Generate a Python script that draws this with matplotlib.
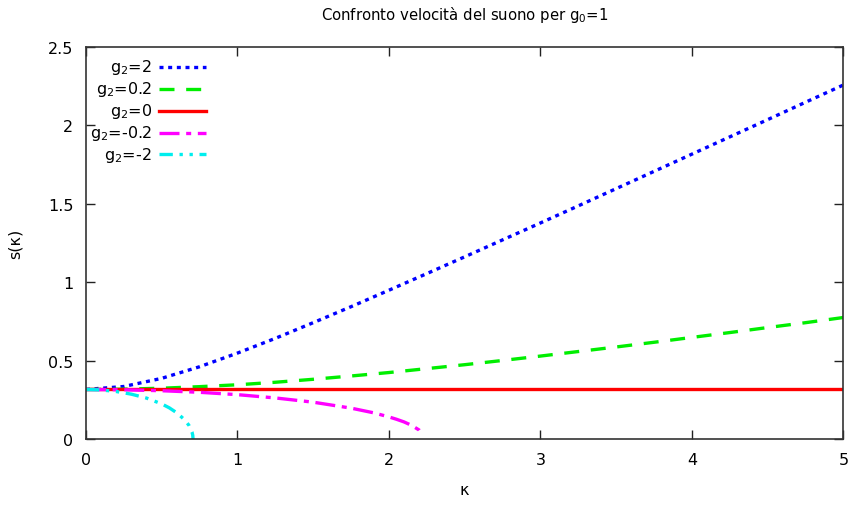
"""Sound speed s(kappa) for several values of g2, with g0 fixed at 1."""
import matplotlib
matplotlib.use("Agg")
import matplotlib.pyplot as plt

plt.rcParams["font.family"] = ["DejaVu Sans"]
plt.rcParams["mathtext.default"] = "regular"

# kappa grid and s(kappa) for each coupling
k_pos = [0.0, 0.25, 0.5, 0.75, 1.0, 1.25, 1.5, 1.75, 2.0, 2.25, 2.5,
         2.75, 3.0, 3.25, 3.5, 3.75, 4.0, 4.25, 4.5, 4.75, 5.0]
s_g2_2 = [0.316, 0.335, 0.387, 0.461, 0.548, 0.642, 0.742, 0.844, 0.949, 1.055, 1.162,
          1.270, 1.378, 1.487, 1.597, 1.707, 1.817, 1.927, 2.037, 2.148, 2.258]
s_g2_02 = [0.316, 0.318, 0.324, 0.334, 0.346, 0.362, 0.381, 0.402, 0.424, 0.449, 0.474,
           0.501, 0.529, 0.558, 0.587, 0.617, 0.648, 0.679, 0.711, 0.742, 0.775]
k_flat = [0.0, 5.0]
s_g2_0 = [0.316, 0.316]
k_m02 = [0.0, 0.25, 0.5, 0.75, 1.0, 1.25, 1.5, 1.75, 1.9, 2.0, 2.05, 2.1, 2.15, 2.2, 2.225]
s_g2_m02 = [0.316, 0.314, 0.308, 0.298, 0.283, 0.262, 0.235, 0.197, 0.167, 0.141,
            0.126, 0.109, 0.087, 0.057, 0.022]
k_m2 = [0.0, 0.1, 0.2, 0.3, 0.4, 0.5, 0.55, 0.6, 0.65, 0.68, 0.7, 0.705, 0.707]
s_g2_m2 = [0.316, 0.313, 0.303, 0.286, 0.261, 0.224, 0.199, 0.167, 0.124, 0.087, 0.045, 0.024, 0.0]

labels = ["$g_2$=2", "$g_2$=0.2", "$g_2$=0", "$g_2$=-0.2", "$g_2$=-2"]
colors = ["#0000ff", "#00ee00", "#ff0000", "#ff00ff", "#00eeee"]
styles = [(0, (1.2, 1.4)), (0, (4.5, 3.5)), "-", (0, (6, 2, 1.5, 2)), (0, (4, 2, 1, 2, 1, 2))]
series = [(k_pos, s_g2_2), (k_pos, s_g2_02), (k_flat, s_g2_0),
          (k_m02, s_g2_m02), (k_m2, s_g2_m2)]

fig = plt.figure(figsize=(8.51, 5.06), dpi=100)
ax = fig.add_axes([0.101, 0.1304, 0.89, 0.7746])

for (x, y), c, ls in zip(series, colors, styles):
    ax.plot(x, y, color=c, linestyle=ls, linewidth=2.4, clip_on=True)

ax.set_xlim(0, 5)
ax.set_ylim(0, 2.5)
ax.set_xticks([0, 1, 2, 3, 4, 5])
ax.set_yticks([0, 0.5, 1, 1.5, 2, 2.5])
ax.set_yticklabels(["0", "0.5", "1", "1.5", "2", "2.5"])
ax.tick_params(direction="in", length=6.5, width=1, labelsize=11.5,
               top=True, right=True, pad=9, colors="#222222", labelcolor="black")
for sp in ax.spines.values():
    sp.set_linewidth(1.2)
    sp.set_color("#333333")

ax.set_title("Confronto velocità del suono per $g_0$=1", fontsize=10.7, pad=20)
ax.set_xlabel("κ", fontsize=11.5, labelpad=11)
ax.set_ylabel("s(κ)", fontsize=11.5, labelpad=18)

# gnuplot-style key: right-aligned text with the line sample after it
y0 = 0.95
for i, (lab, c, ls) in enumerate(zip(labels, colors, styles)):
    yy = y0 - i * 0.056
    ax.text(0.087, yy, lab, transform=ax.transAxes, ha="right", va="center", fontsize=11.5)
    ax.plot([0.097, 0.158], [yy, yy], transform=ax.transAxes, color=c,
            linestyle=ls, linewidth=2.4)

fig.savefig("out.png", dpi=100)
